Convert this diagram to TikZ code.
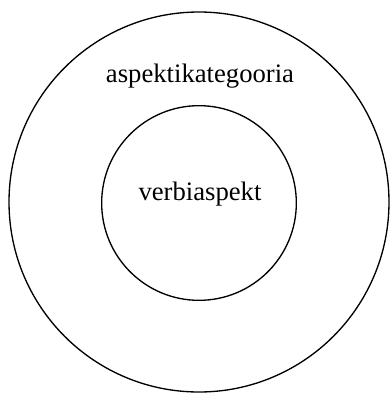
\documentclass[tikz,border=0pt]{standalone}
\usepackage{fontspec}
\setmainfont{Liberation Serif}
\usetikzlibrary{positioning}
\tikzset{ring/.style={circle,draw,line width=1pt,inner sep=0pt},
  lbl/.style={anchor=base,font=\fontsize{20}{24}\selectfont}}
\begin{document}
\begin{tikzpicture}[x=0.75pt,y=-0.75pt]
        \useasboundingbox (0,0) rectangle (391,394);
        \node[ring,minimum size=285pt] (outer) at (199,202) {};
        \node[ring,minimum size=146pt] (inner) at (199,203) {};
        \node[lbl] (outerlbl) at (200,82) {aspektikategooria};
        \node[lbl] (innerlbl) at (200,200) {verbiaspekt};
      \end{tikzpicture}
\end{document}
